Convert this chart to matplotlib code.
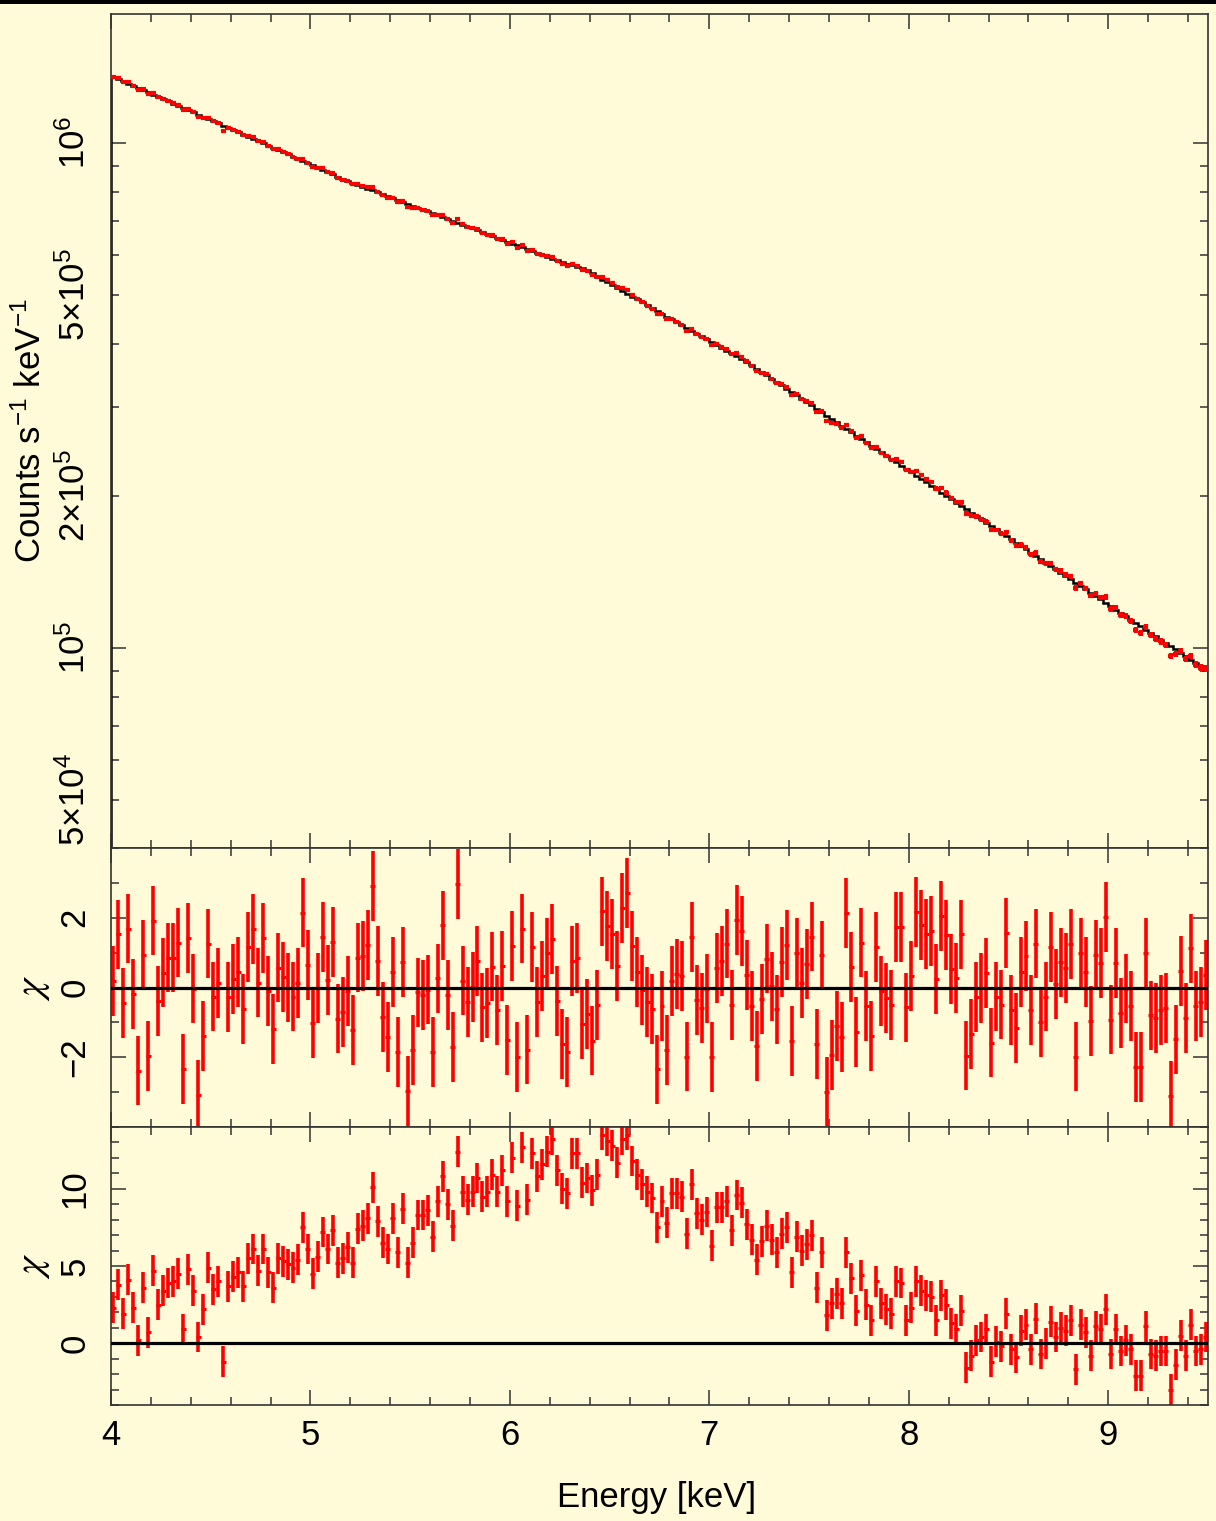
import numpy as np
import matplotlib
matplotlib.use('Agg')
import matplotlib.pyplot as plt
from matplotlib.patches import Rectangle
from matplotlib.ticker import FixedLocator, MultipleLocator, FuncFormatter

plt.rcParams['font.family'] = ['Liberation Sans', 'DejaVu Sans']
plt.rcParams['mathtext.fontset'] = 'custom'
plt.rcParams['mathtext.rm'] = 'Liberation Sans'
plt.rcParams['mathtext.it'] = 'Liberation Sans:italic'
plt.rcParams['mathtext.bf'] = 'Liberation Sans:bold'

BG = '#fffad8'
FRAME = '#333333'

# channel grid (keV)
E_FIRST = 4.0125
BIN_W = 0.025
EXPOSURE = 2.0  # s

# folded model, 1e3 counts s^-1 keV^-1 per channel
model_k = [
    1349.0, 1335.5, 1322.1, 1308.8, 1295.7, 1282.7, 1269.8, 1257.1, 1244.5, 1232.0,
    1219.6, 1207.4, 1195.3, 1183.3, 1171.4, 1159.6, 1148.0, 1136.5, 1125.1, 1113.8,
    1102.6, 1091.5, 1080.5, 1069.7, 1058.9, 1048.3, 1037.8, 1027.4, 1017.1, 1006.9,
    996.8, 986.8, 976.9, 967.1, 957.4, 947.8, 938.3, 928.9, 919.6, 910.4,
    901.3, 892.2, 883.2, 874.3, 865.5, 856.8, 848.2, 839.7, 832.5, 825.3,
    818.2, 811.1, 804.1, 797.2, 790.3, 783.5, 776.8, 770.1, 763.5, 756.9,
    750.4, 743.9, 737.5, 731.1, 724.8, 718.6, 712.4, 706.3, 700.2, 694.2,
    688.2, 682.3, 676.4, 670.6, 664.8, 659.1, 653.4, 647.8, 642.2, 636.7,
    631.2, 625.8, 620.4, 615.1, 609.8, 604.5, 599.3, 594.1, 589.6, 585.2,
    580.8, 576.4, 572.1, 567.8, 563.5, 559.3, 550.9, 542.6, 535.6, 528.7,
    521.9, 515.2, 508.6, 502.1, 495.6, 489.2, 482.9, 476.7, 470.6, 464.5,
    458.5, 452.6, 446.8, 441.1, 435.4, 429.8, 424.3, 418.8, 413.4, 408.1,
    402.8, 397.6, 392.5, 387.5, 382.5, 377.6, 372.7, 367.9, 362.3, 356.8,
    351.4, 346.1, 340.9, 335.7, 330.6, 325.6, 320.7, 315.8, 311.0, 306.3,
    301.7, 297.1, 292.6, 288.2, 283.8, 279.5, 275.3, 271.1, 267.0, 263.0,
    259.0, 255.1, 251.2, 247.4, 243.7, 240.0, 236.4, 232.8, 229.3, 225.8,
    222.4, 219.0, 215.7, 212.4, 209.2, 206.0, 202.9, 199.8, 196.8, 193.8,
    190.9, 188.0, 185.2, 182.4, 179.6, 176.9, 174.2, 171.6, 169.0, 166.4,
    163.9, 161.4, 159.0, 156.6, 154.2, 151.9, 149.6, 147.3, 145.1, 142.9,
    140.7, 138.6, 136.5, 134.4, 132.4, 130.4, 128.4, 126.5, 124.6, 122.7,
    120.8, 119.0, 117.2, 115.4, 113.7, 112.0, 110.3, 108.6, 107.0, 105.4,
    103.8, 102.2, 100.7, 99.2, 97.7, 96.2, 94.7, 93.3, 91.9, 90.5,
]

# residuals of the full model, (data - model) / error
chi_fit = [
    0.19, 1.52, -0.44, 1.69, -0.18, -2.38, 0.94, -1.97, 1.92, -0.39,
    0.43, 0.86, 0.86, 1.29, -2.34, 1.41, -0.03, -3.07, -1.38, 1.26,
    -0.26, 0.12, -5.05, -0.27, 0.24, 0.45, -0.62, 1.16, 1.68, 0.14,
    1.41, -0.10, -1.19, 0.57, 0.30, 0.00, -0.26, 0.12, 2.15, 0.64,
    -1.03, -0.01, 1.45, 0.22, 1.31, -0.89, -0.70, -0.10, -1.22, 0.86,
    0.90, 1.21, 2.90, 0.77, -0.84, -1.43, 0.44, -1.86, 0.74, -2.97,
    -1.80, -0.14, -0.21, -0.06, -1.86, 0.26, 1.78, -0.22, -1.70, 2.97,
    0.20, -0.41, 0.02, 0.77, -0.57, -0.44, 0.60, -0.65, 0.61, -1.50,
    1.19, -1.99, 1.69, -1.78, 1.16, -0.41, 0.32, 0.98, 1.40, -0.38,
    -1.63, -1.84, 0.77, 0.84, -1.06, -0.76, -1.52, -0.50, 2.18, 1.76,
    1.54, 0.62, 2.28, 2.71, 1.19, 0.45, -0.07, -0.41, -0.62, -2.35,
    -0.52, -1.79, 0.19, 0.38, 0.33, -1.98, 1.44, -0.35, -0.58, -0.03,
    -2.00, 0.56, 0.76, 1.26, -0.51, 1.94, 1.63, 0.35, -0.53, -1.68,
    -0.34, 0.83, 0.03, -0.63, 0.74, 1.22, -1.54, 0.98, 0.13, 0.67,
    1.46, -1.61, 0.92, -2.99, -1.94, -1.11, -1.43, 2.14, 0.58, -1.27,
    1.29, -0.53, -1.39, 1.17, -0.10, -0.30, -0.50, 1.73, 1.73, -0.57,
    0.32, 2.17, 1.79, 1.54, 1.63, 0.25, 2.04, 1.50, 0.53, 0.27,
    1.52, -1.95, -1.33, -0.27, -0.02, 0.42, -1.58, -0.26, -0.49, 1.57,
    -0.65, -1.16, 0.45, 0.90, -0.65, 1.26, -0.99, -0.26, 1.16, 0.10,
    0.72, 0.55, 1.24, -1.98, 0.99, 0.45, -0.96, 0.94, 0.71, 2.03,
    -0.92, 0.70, -0.73, -0.03, -0.54, -2.28, -2.28, 0.99, -0.80, -0.88,
    -0.65, -0.59, -3.10, -1.49, 0.48, -0.87, 1.12, -0.52, -0.41, 0.35,
]

# residuals with the line component removed
chi_noline = [
    2.3, 3.8, 1.9, 4.1, 2.3, 0.2, 3.6, 0.7, 4.7, 2.5,
    3.4, 3.9, 4.0, 4.5, 0.9, 4.8, 3.4, 0.4, 2.2, 4.9,
    3.5, 4.0, -1.2, 3.7, 4.3, 4.6, 3.7, 5.5, 6.1, 4.7,
    6.1, 4.6, 3.6, 5.5, 5.3, 5.1, 4.9, 5.4, 7.5, 6.1,
    4.5, 5.6, 7.2, 6.1, 7.3, 5.2, 5.5, 6.2, 5.2, 7.4,
    7.6, 8.1, 10.1, 7.9, 6.5, 6.1, 8.1, 5.9, 8.7, 5.2,
    6.5, 8.3, 8.3, 8.6, 6.9, 9.2, 10.8, 9.0, 7.6, 12.4,
    9.8, 9.3, 9.8, 10.7, 9.5, 9.8, 10.9, 9.8, 11.2, 9.2,
    12.0, 8.9, 12.7, 9.3, 12.3, 10.8, 11.6, 12.4, 13.2, 11.2,
    10.0, 9.7, 12.3, 12.3, 10.4, 10.7, 9.9, 10.9, 13.5, 13.1,
    12.8, 11.7, 13.2, 13.5, 11.8, 10.9, 10.3, 9.8, 9.4, 7.5,
    9.2, 7.8, 9.7, 9.7, 9.5, 7.1, 10.3, 8.4, 8.0, 8.5,
    6.3, 8.8, 8.8, 9.2, 7.3, 9.6, 9.1, 7.7, 6.7, 5.4,
    6.6, 7.6, 6.7, 5.9, 7.1, 7.5, 4.6, 6.9, 6.0, 6.4,
    7.0, 3.6, 5.9, 1.8, 2.6, 3.2, 2.6, 5.9, 4.2, 2.1,
    4.4, 2.5, 1.5, 4.0, 2.6, 2.2, 1.9, 4.0, 3.9, 1.5,
    2.3, 4.0, 3.4, 3.1, 3.0, 1.5, 3.1, 2.5, 1.3, 0.9,
    2.1, -1.6, -0.8, 0.2, 0.4, 0.9, -1.2, 0.1, -0.2, 1.9,
    -0.4, -0.9, 0.8, 1.2, -0.4, 1.6, -0.7, 0.0, 1.4, 0.4,
    1.0, 0.8, 1.5, -1.7, 1.2, 0.7, -0.8, 1.1, 0.9, 2.2,
    -0.7, 0.9, -0.5, 0.2, -0.4, -2.1, -2.1, 1.1, -0.7, -0.8,
    -0.5, -0.5, -3.0, -1.4, 0.5, -0.8, 1.2, -0.5, -0.4, 0.4,
]

count_major = [1e5, 1e6]
count_minor = [k * 10.0 ** e for e in (4, 5, 6) for k in range(2, 10)]
count_minor_labels = {5e4: r'$5{\times}10^{4}$', 2e5: r'$2{\times}10^{5}$', 5e5: r'$5{\times}10^{5}$'}
chi_fit_ticks = [-2, 0, 2]
chi_noline_ticks = [0, 5, 10]

energy = E_FIRST + BIN_W * np.arange(len(chi_fit))
half = BIN_W / 2
edges = np.append(energy - half, energy[-1] + half)
model = np.array(model_k) * 1e3
err = np.sqrt(model * BIN_W * EXPOSURE) / (BIN_W * EXPOSURE)
rate = model + np.array(chi_fit) * err
chi_fit = np.array(chi_fit)
chi_noline = np.array(chi_noline)

fig = plt.figure(figsize=(12.16, 15.21), dpi=100, facecolor=BG)
fig.add_artist(Rectangle((0, 1 - 4 / 1521), 1, 4 / 1521, transform=fig.transFigure,
                         facecolor='black', edgecolor='none'))

L, W = 111 / 1216, 1097 / 1216
ax1 = fig.add_axes([L, 1 - 848 / 1521, W, 834 / 1521])
ax2 = fig.add_axes([L, 1 - 1127 / 1521, W, 279 / 1521], sharex=ax1)
ax3 = fig.add_axes([L, 1 - 1405 / 1521, W, 278 / 1521], sharex=ax1)

FS = 25

# spectrum with folded model underneath the data crosses
ax1.stairs(model, edges, color='black', lw=1.8, zorder=2)
ax1.vlines(energy, rate - err, rate + err, color='red', lw=3.0, zorder=3)
ax1.hlines(rate, energy - half, energy + half, color='red', lw=3.0, zorder=3)
ax1.set_yscale('log')
ax1.set_ylim(4.012e4, 1.798e6)
ax1.yaxis.set_major_locator(FixedLocator(count_major))
ax1.yaxis.set_minor_locator(FixedLocator(count_minor))
ax1.yaxis.set_major_formatter(FuncFormatter(lambda v, p: r'$10^{%d}$' % round(np.log10(v))))
ax1.yaxis.set_minor_formatter(FuncFormatter(
    lambda v, p: next((s for k, s in count_minor_labels.items() if abs(v / k - 1) < 1e-6), '')))
ax1.set_ylabel(r'Counts s$^{-1}$ keV$^{-1}$', fontsize=FS, va='center')
ax1.yaxis.set_label_coords(-0.073, 0.5)

# residual panels
for ax, chi, ticks, lim in ((ax2, chi_fit, chi_fit_ticks, (-4, 4)),
                            (ax3, chi_noline, chi_noline_ticks, (-4, 14))):
    ax.vlines(energy, chi - 1, chi + 1, color='red', lw=2.6, zorder=2)
    ax.hlines(chi, energy - half, energy + half, color='red', lw=2.2, zorder=2)
    ax.axhline(0, color='black', lw=2.3, zorder=3)
    ax.set_ylim(*lim)
    ax.yaxis.set_major_locator(FixedLocator(ticks))
    ax.yaxis.set_minor_locator(MultipleLocator(1))
    ax.set_ylabel(r'$\chi$', fontsize=FS + 4, va='center', math_fontfamily='stix')
    ax.yaxis.set_label_coords(-0.071, 0.5)

for ax in (ax1, ax2, ax3):
    ax.set_facecolor(BG)
    ax.set_xlim(4, 9.5)
    ax.xaxis.set_major_locator(MultipleLocator(1))
    ax.xaxis.set_minor_locator(MultipleLocator(0.2))
    for s in ax.spines.values():
        s.set_color(FRAME)
        s.set_linewidth(1.2)
    ax.tick_params(which='both', direction='in', top=True, right=True,
                   color=FRAME, width=1.1, labelsize=FS)
    ax.tick_params(which='major', length=11)
    ax.tick_params(which='minor', length=6)
    ax.tick_params(axis='y', which='both', labelrotation=90, pad=14)
    ax.tick_params(axis='x', which='both', pad=10)
    plt.setp(ax.get_yticklabels(which='both'), va='center')

ax1.tick_params(axis='x', labelbottom=False)
ax2.tick_params(axis='x', labelbottom=False)
ax3.set_xlabel('Energy [keV]', fontsize=FS, va='center')
ax3.xaxis.set_label_coords(0.497, -0.331)

fig.savefig('out.png', dpi=100, facecolor=BG)
